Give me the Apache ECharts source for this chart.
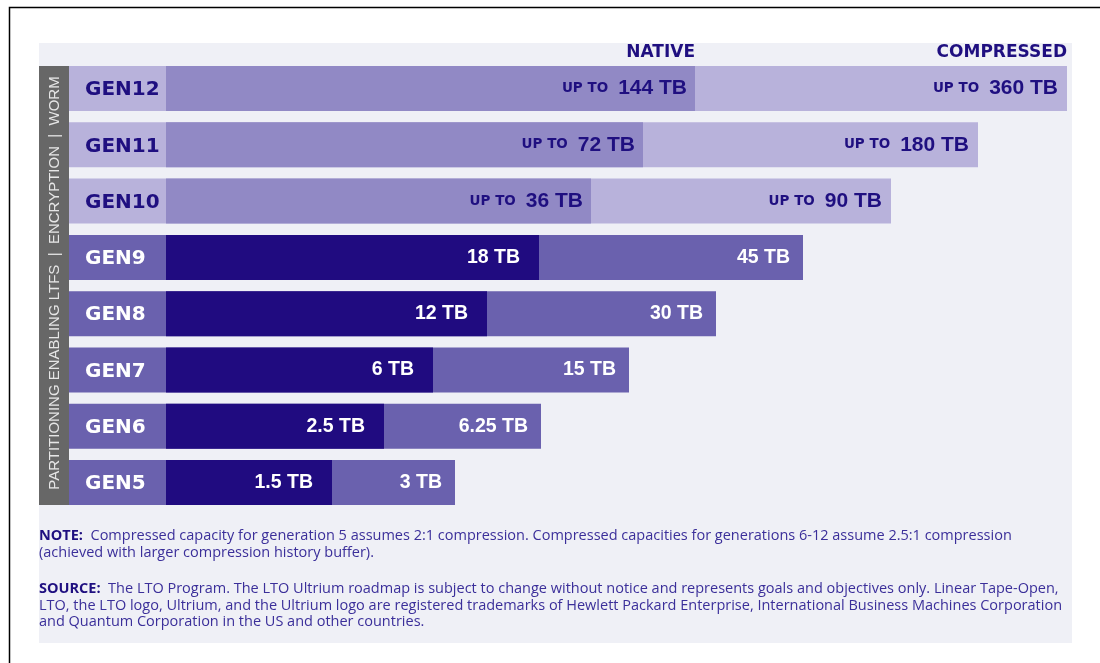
<!DOCTYPE html>
<html>
<head>
<meta charset="utf-8">
<script src="https://cdn.jsdelivr.net/npm/echarts@6/dist/echarts.min.js"></script>
<style>
  html, body { margin: 0; padding: 0; background: #fff; }
  #chart { width: 1100px; height: 663px; }
</style>
</head>
<body>
<div id="chart"></div>
<script>
// generations, top to bottom
const categories = ['GEN12', 'GEN11', 'GEN10', 'GEN9', 'GEN8', 'GEN7', 'GEN6', 'GEN5'];
const nativeLabels = ['144 TB', '72 TB', '36 TB', '18 TB', '12 TB', '6 TB', '2.5 TB', '1.5 TB'];
const compressedLabels = ['360 TB', '180 TB', '90 TB', '45 TB', '30 TB', '15 TB', '6.25 TB', '3 TB'];
const isFuture = [true, true, true, false, false, false, false, false];
// the bars are drawn to an infographic scale, not to TB
const nativeLength = [529, 477, 425, 373, 321, 267, 218, 166];
const compressedLength = [901, 812, 725, 637, 550, 463, 375, 289];

const navy = '#1f0f80';
const heavy = '"DejaVu Sans", sans-serif';
const arial = '"Liberation Sans", Arial, sans-serif';
const body = '"Open Sans", sans-serif';

const chart = echarts.init(document.getElementById('chart'));

function valueLabel(text, future) {
    if (future) return '{u|UP TO}   {v|' + text + '}';
    return '{w|' + text + '}';
}

const labelRich = {
    u: { fontFamily: heavy, fontWeight: 'bold', fontSize: 13.5, color: navy },
    v: { fontFamily: arial, fontWeight: 'bold', fontSize: 21, color: navy },
    w: { fontFamily: arial, fontWeight: 'bold', fontSize: 19.5, color: '#ffffff' }
};

const compressedData = compressedLength.map((v, i) => ({
    value: v,
    itemStyle: { color: isFuture[i] ? '#b8b2db' : '#6a61ae' },
    label: {
        formatter: valueLabel(compressedLabels[i], isFuture[i]),
        distance: isFuture[i] ? 9 : 13
    }
}));

const nativeData = nativeLength.map((v, i) => ({
    value: v,
    itemStyle: { color: isFuture[i] ? '#9189c5' : '#200b80' },
    label: {
        formatter: valueLabel(nativeLabels[i], isFuture[i]),
        distance: isFuture[i] ? 8 : 19
    }
}));

const footRich = {
    b: { fontFamily: body, fontWeight: 'bold', fontSize: 14.5, fill: navy, lineHeight: 16.5 },
    t: { fontFamily: body, fontSize: 14.5, fill: '#3b2f9a', lineHeight: 16.5 }
};

const option = {
    backgroundColor: '#ffffff',
    animation: false,
    grid: { left: 166, top: 60.4, width: 906, height: 450.3 },
    xAxis: {
        type: 'value', min: 0, max: 906, show: false
    },
    yAxis: {
        type: 'category',
        data: categories,
        inverse: true,
        axisLine: { show: false },
        axisTick: { show: false },
        splitLine: { show: false },
        axisLabel: {
            margin: 0,
            formatter: (v, i) => (isFuture[i] ? '{l|' : '{d|') + v + '}',
            rich: {
                l: {
                    width: 81, height: 42, padding: [3, 0, 0, 16], align: 'left',
                    backgroundColor: '#b8b2db', color: navy,
                    fontFamily: heavy, fontWeight: 'bold', fontSize: 20
                },
                d: {
                    width: 81, height: 42, padding: [3, 0, 0, 16], align: 'left',
                    backgroundColor: '#6a61ae', color: '#ffffff',
                    fontFamily: heavy, fontWeight: 'bold', fontSize: 20
                }
            }
        }
    },
    series: [
        {
            name: 'Compressed',
            type: 'bar',
            barWidth: 45,
            barGap: '-100%',
            data: compressedData,
            label: { show: true, position: 'insideRight', rich: labelRich }
        },
        {
            name: 'Native',
            type: 'bar',
            barWidth: 45,
            barGap: '-100%',
            data: nativeData,
            label: { show: true, position: 'insideRight', rich: labelRich }
        }
    ],
    graphic: [
        // outer frame
        { type: 'rect', z: -20, shape: { x: 9.5, y: 7.5, width: 1200, height: 800 },
          style: { fill: 'none', stroke: '#000', lineWidth: 1.5 } },
        // light panel
        { type: 'rect', z: -10, shape: { x: 39, y: 43, width: 1033, height: 600 },
          style: { fill: '#eff0f6' } },
        // feature strip
        { type: 'rect', z: -5, shape: { x: 39, y: 66, width: 30, height: 439 },
          style: { fill: '#676767' } },
        { type: 'text', x: 55, y: 283, rotation: Math.PI / 2,
          style: { text: 'PARTITIONING ENABLING LTFS  |  ENCRYPTION  |  WORM',
                   fill: '#e6e6e6', fontFamily: arial, fontSize: 15,
                   align: 'center', verticalAlign: 'middle' } },
        // column headers
        { type: 'text', x: 695, y: 53,
          style: { text: 'NATIVE', fill: navy, fontFamily: heavy, fontWeight: 'bold', fontSize: 17,
                   align: 'right', verticalAlign: 'middle' } },
        { type: 'text', x: 1067, y: 53,
          style: { text: 'COMPRESSED', fill: navy, fontFamily: heavy, fontWeight: 'bold', fontSize: 17,
                   align: 'right', verticalAlign: 'middle' } },
        // footnotes
        { type: 'text', x: 39, y: 528,
          style: {
              text: '{b|NOTE:}{t|  Compressed capacity for generation 5 assumes 2:1 compression. Compressed capacities for generations 6-12 assume 2.5:1 compression}\n{t|(achieved with larger compression history buffer).}',
              rich: footRich
          } },
        { type: 'text', x: 39, y: 581,
          style: {
              text: '{b|SOURCE:}{t|  The LTO Program. The LTO Ultrium roadmap is subject to change without notice and represents goals and objectives only. Linear Tape-Open,}\n{t|LTO, the LTO logo, Ultrium, and the Ultrium logo are registered trademarks of Hewlett Packard Enterprise, International Business Machines Corporation}\n{t|and Quantum Corporation in the US and other countries.}',
              rich: footRich
          } }
    ]
};

chart.setOption(option);
</script>
</body>
</html>
